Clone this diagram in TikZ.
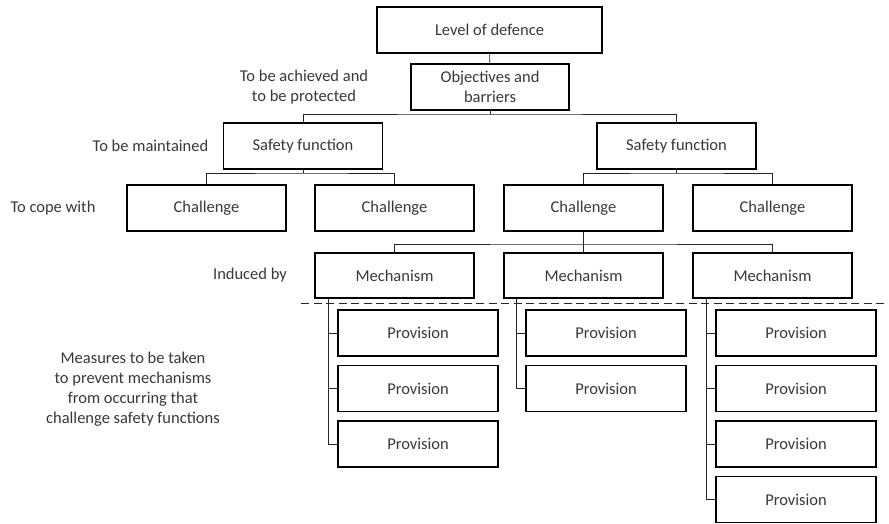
\documentclass[tikz,border=0pt]{standalone}
\usepackage{fontspec}
\setmainfont{Carlito}
\usepackage{xcolor}
\usetikzlibrary{positioning,calc}

\begin{document}
\begin{tikzpicture}[x=1pt,y=-1pt,
  box/.style={draw=black,line width=1.6pt,minimum width=159pt,minimum height=46pt,
    inner sep=2pt,align=center,text=black!78,font=\fontsize{16.5}{20}\selectfont},
  lab/.style={align=center,text=black!78,font=\fontsize{16.5}{20}\selectfont},
  link/.style={draw=black!85,line width=0.9pt}]
\useasboundingbox (0,0) rectangle (889,523);
% top of the tree
\node[box,minimum width=225pt] (lod) at (489.5,30) {Level of defence};
\node[box,minimum width=158pt] (obj) at (490,87) {Objectives and\\barriers};
\node[box] (sfL) at (303,146) {Safety function};
\node[box] (sfR) at (676.5,146) {Safety function};
% challenges
\node[box] (chA) at (206.5,208) {Challenge};
\node[box] (chB) at (394.5,208) {Challenge};
\node[box] (chC) at (583.5,208) {Challenge};
\node[box] (chD) at (772.5,208) {Challenge};
% mechanisms
\node[box,minimum height=45pt] (meA) at (394.5,275.5) {Mechanism};
\node[box,minimum height=45pt] (meB) at (583.5,275.5) {Mechanism};
\node[box,minimum height=45pt] (meC) at (772.5,275.5) {Mechanism};
% provisions
\foreach \i/\y in {1/333,2/388.5,3/444}
  \node[box,minimum width=160pt] (pA\i) at (418,\y) {Provision};
\foreach \i/\y in {1/333,2/388.5}
  \node[box,minimum width=160pt] (pB\i) at (606,\y) {Provision};
\foreach \i/\y in {1/333,2/388.5,3/444,4/499.5}
  \node[box,minimum width=160pt] (pC\i) at (796,\y) {Provision};

% labels on the left
\node[lab] (l1) at (304,87) {To be achieved and\\to be protected};
\node[lab] (l2) at (150.5,146) {To be maintained};
\node[lab] (l3) at (53,208) {To cope with};
\node[lab] (l4) at (250,275) {Induced by};
\node[lab] (l5) at (133,389) {Measures to be taken\\to prevent mechanisms\\from occurring that\\challenge safety functions};

% tree links
\draw[link] (lod) -- (obj);
\coordinate (j1) at (490,114);
\draw[link] (obj) -- (j1);
\draw[link] (sfL.north) |- (j1) -| (sfR.north);
\coordinate (j2) at (303,173);
\draw[link] (sfL) -- (j2);
\draw[link] (chA.north) |- (j2) -| (chB.north);
\coordinate (j3) at (676.5,173);
\draw[link] (sfR) -- (j3);
\draw[link] (chC.north) |- (j3) -| (chD.north);
\coordinate (j4) at (583.5,244);
\draw[link] (chC) -- (j4);
\draw[link] (meA.north) |- (j4) -| (meC.north);
\draw[link] (j4) -- (meB.north);

% boundary
\coordinate (d1) at (301,303);
\coordinate (d2) at (884,303);
\draw[black!85,line width=0.9pt,dash pattern=on 8pt off 4.5pt] (d1) -- (d2);

% provision links
\coordinate (tA) at (328,298);
\coordinate (tB) at (516,298);
\coordinate (tC) at (706,298);
\draw[link] (tA) -- (tA |- pA3.west);
\foreach \i in {1,2,3} \draw[link] (tA |- pA\i.west) -- (pA\i.west);
\draw[link] (tB) -- (tB |- pB2.west);
\foreach \i in {1,2} \draw[link] (tB |- pB\i.west) -- (pB\i.west);
\draw[link] (tC) -- (tC |- pC4.west);
\foreach \i in {1,...,4} \draw[link] (tC |- pC\i.west) -- (pC\i.west);
\end{tikzpicture}
\end{document}
